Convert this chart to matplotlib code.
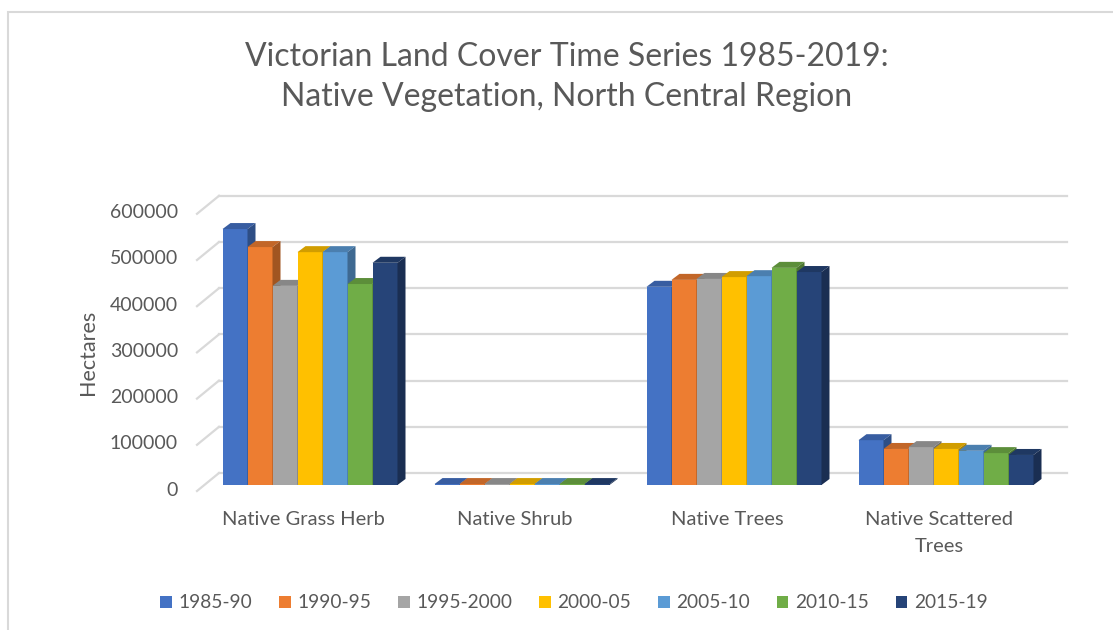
import matplotlib
matplotlib.use('Agg')
import matplotlib.pyplot as plt
import numpy as np
from matplotlib.patches import Polygon, Rectangle, Patch
from matplotlib.lines import Line2D
import matplotlib.transforms as mtransforms

# ---------------- data ----------------
categories = ['Native Grass Herb', 'Native Shrub', 'Native Trees', 'Native Scattered\nTrees']
periods = ['1985-90', '1990-95', '1995-2000', '2000-05', '2005-10', '2010-15', '2015-19']
v_1985_90 = [554000, 2000, 429000, 97000]
v_1990_95 = [515000, 2000, 444000, 78000]
v_1995_2000 = [431000, 2000, 446000, 82000]
v_2000_05 = [504000, 2000, 450000, 78000]
v_2005_10 = [504000, 2000, 452000, 74000]
v_2010_15 = [435000, 2000, 470000, 69000]
v_2015_19 = [481000, 2000, 461000, 65000]
series = [v_1985_90, v_1990_95, v_1995_2000, v_2000_05, v_2005_10, v_2010_15, v_2015_19]
y_ticks = [0, 100000, 200000, 300000, 400000, 500000, 600000]
y_tick_labels = ['0', '100000', '200000', '300000', '400000', '500000', '600000']

colors = ['#4472C4', '#ED7D31', '#A5A5A5', '#FFC000', '#5B9BD5', '#70AD47', '#264478']

TXT = '#595959'
GRID = '#D9D9D9'
FONT = 'Lato'

W, H = 1113, 630
fig = plt.figure(figsize=(W / 100, H / 100), dpi=100)
fig.patch.set_facecolor('white')

# outer chart border (top & left visible)
fig.add_artist(Rectangle((8 / W, -0.1), 1.2, (1 - 12 / H) + 0.1, transform=fig.transFigure,
                         fill=False, edgecolor='#D9D9D9', lw=1.5))

ax = fig.add_axes([204 / W, 1 - 485 / H, 848 / W, 277.2 / H])
ax.set_xlim(-0.5, 3.5)
ax.set_ylim(0, 600000)
ax.axis('off')

# pixel -> data conversions from the axes transform
p0 = ax.transData.transform((0, 0))
p1 = ax.transData.transform((1, 100000))
ux = 1.0 / (p1[0] - p0[0])          # data x per pixel
uy = 100000.0 / (p1[1] - p0[1])     # data y per pixel

x0, x1 = ax.get_xlim()

# walls: back offset (+15,+12) px, front offset (-7,-6) px relative to bar plane
bdx, bdy = 15 * ux, 12 * uy
fdx, fdy = -7 * ux, -6 * uy
for v in y_ticks:
    ax.add_line(Line2D([x0 + bdx, x1 + bdx], [v + bdy, v + bdy], color=GRID, lw=1.6,
                       clip_on=False, zorder=1))
    ax.add_line(Line2D([x0 + fdx, x0 + bdx], [v + fdy, v + bdy], color=GRID, lw=1.6,
                       clip_on=False, zorder=1))

# y tick labels
for v, lab in zip(y_ticks, y_tick_labels):
    ax.text(x0 - 26 * ux, v - 5 * uy, lab, ha='right', va='center', fontsize=14,
            color=TXT, family=FONT, clip_on=False)

# bars
n = len(series)
bw = 25 / 212.0
ddx, ddy = 8 * ux, 6 * uy


def shade(c, f):
    r, g, b = matplotlib.colors.to_rgb(c)
    return (r * f, g * f, b * f)


xcat = np.arange(len(categories))
for ci in range(len(categories)):
    for si in range(n):
        val = series[si][ci]
        left = xcat[ci] + (si - n / 2) * bw
        col = colors[si]
        ax.bar(left, val, width=bw, align='edge', color=col, linewidth=0, zorder=3 + si * 0.01 + ci)
        top = Polygon([(left, val), (left + bw, val), (left + bw + ddx, val + ddy), (left + ddx, val + ddy)],
                      closed=True, facecolor=shade(col, 0.82), edgecolor='none', zorder=3 + si * 0.01 + ci + 0.001,
                      clip_on=False)
        side = Polygon([(left + bw, 0), (left + bw + ddx, ddy), (left + bw + ddx, val + ddy), (left + bw, val)],
                       closed=True, facecolor=shade(col, 0.68), edgecolor='none', zorder=3 + si * 0.01 + ci + 0.001,
                       clip_on=False)
        ax.add_patch(top)
        ax.add_patch(side)

# category labels
bt = mtransforms.blended_transform_factory(ax.transData, fig.transFigure)
for i, cat in enumerate(categories):
    ax.text(xcat[i] - 7 * ux, 1 - 511 / H, cat, transform=bt, ha='center', va='top',
            fontsize=14.5, color=TXT, family=FONT, linespacing=1.72)

# axis title
fig.text(88 / W, 1 - 352 / H, 'Hectares', rotation=90, ha='center', va='center',
         fontsize=15.5, color=TXT, family=FONT)

# chart title
fig.text(567 / W, 1 - 57 / H, 'Victorian Land Cover Time Series 1985-2019:', ha='center', va='center',
         fontsize=23, color=TXT, family=FONT)
fig.text(567 / W, 1 - 97 / H, 'Native Vegetation, North Central Region', ha='center', va='center',
         fontsize=23, color=TXT, family=FONT)

# legend
handles = [Patch(facecolor=c, edgecolor='none') for c in colors]
leg = fig.legend(handles, periods, loc='center', bbox_to_anchor=(574 / W, 1 - 603 / H), ncol=7,
                 frameon=False, handlelength=0.6, handleheight=0.6, handletextpad=0.35,
                 columnspacing=1.4, prop={'family': FONT, 'size': 13.8})
for t in leg.get_texts():
    t.set_color(TXT)

fig.savefig('out.png', dpi=100)
